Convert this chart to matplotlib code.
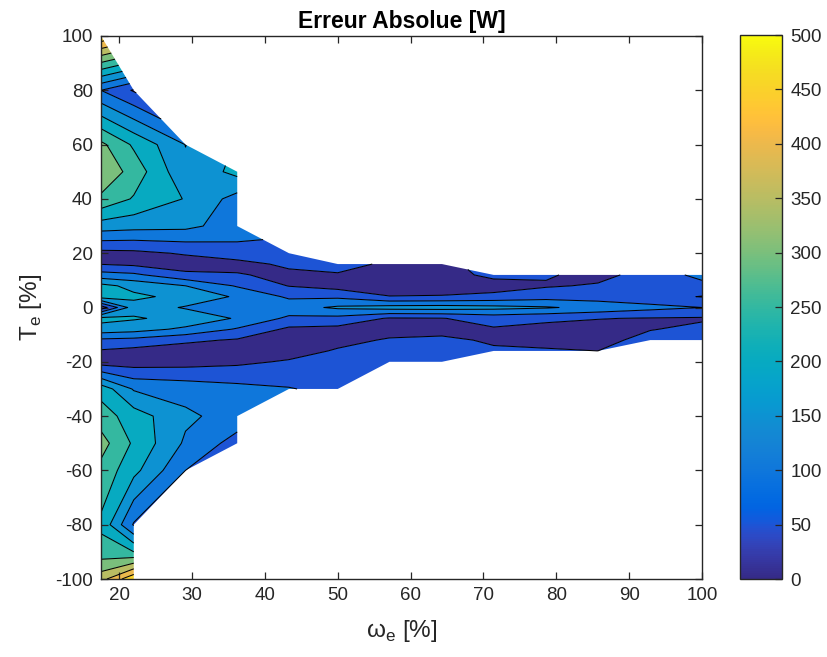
import numpy as np
import matplotlib
matplotlib.use("Agg")
import matplotlib.pyplot as plt
from matplotlib.colors import LinearSegmentedColormap, Normalize
import matplotlib.cm as cm

plt.rcParams['font.family'] = ['Liberation Sans', 'DejaVu Sans']
plt.rcParams['axes.unicode_minus'] = False

# ---------------- data ----------------
NA = np.nan
omega_pct = [17.5, 22.0, 29.1, 36.2, 43.3, 50.0, 57.1, 64.3, 71.4, 78.6, 85.7, 92.9, 100.0]
torque_pct = [-100, -90, -80, -60, -50, -40, -30, -20, -16, -12, -8, -4, 0,
              4, 8, 12, 16, 20, 30, 40, 50, 60, 80, 100]

err_m100 = [380, 490] + [NA] * 11
err_m90 = [270, 250] + [NA] * 11
err_m80 = [240, 95] + [NA] * 11
err_m60 = [285, 215, 100] + [NA] * 10
err_m50 = [320, 242, 142, 80] + [NA] * 9
err_m40 = [275, 224, 160, 128] + [NA] * 9
err_m30 = [230, 145, 130, 115, 103, 85] + [NA] * 7
err_m20 = [25, 25, 30, 40, 55, 70, 75, 80] + [NA] * 5
err_m16 = [45, 35, 25, 25, 30, 55, 65, 70, 60, 55, 50, NA, NA]
err_m12 = [90, 85, 60, 45, 25, 35, 55, 65, 40, 35, 35, 65, 70]
err_m8 = [180, 170, 140, 95, 40, 35, 30, 25, 45, 35, 30, 48, 60]
err_m4 = [215, 205, 185, 145, 90, 85, 45, 48, 70, 60, 52, 47, 45]
err_0 = [20, 180, 145, 125, 130, 158, 170, 172, 165, 155, 135, 115, 100]
err_p4 = [225, 210, 186, 143, 92, 90, 52, 55, 65, 80, 75, 65, 48]
err_p8 = [215, 185, 150, 95, 48, 30, 20, 15, 25, 45, 55, 75, 85]
err_p12 = [120, 110, 62, 55, 35, 45, 30, 25, 65, 55, 35, 70, 115]
err_p16 = [48, 40, 25, 30, 62, 70, 40, 35] + [NA] * 5
err_p20 = [35, 38, 55, 82, 75] + [NA] * 8
err_p30 = [176, 168, 163, 125] + [NA] * 9
err_p40 = [290, 245, 197, 131] + [NA] * 9
err_p50 = [340, 280, 160, 215] + [NA] * 9
err_p60 = [312, 242, 149] + [NA] * 10
err_p80 = [100, 45] + [NA] * 11
err_p100 = [490] + [NA] * 12

rows = [err_m100, err_m90, err_m80, err_m60, err_m50, err_m40, err_m30, err_m20,
        err_m16, err_m12, err_m8, err_m4, err_0, err_p4, err_p8, err_p12, err_p16,
        err_p20, err_p30, err_p40, err_p50, err_p60, err_p80, err_p100]

levels = list(range(0, 501, 50))
cbar_ticks = list(range(0, 501, 50))
x_ticks = list(range(20, 101, 10))
y_ticks = list(range(-100, 101, 20))

# ---------------- style ----------------
PARULA = [
    [0.2081, 0.1663, 0.5292], [0.2116, 0.1898, 0.5777], [0.2123, 0.2138, 0.6270],
    [0.2081, 0.2386, 0.6771], [0.1959, 0.2645, 0.7279], [0.1707, 0.2919, 0.7792],
    [0.1253, 0.3242, 0.8303], [0.0591, 0.3598, 0.8683], [0.0117, 0.3875, 0.8820],
    [0.0060, 0.4086, 0.8828], [0.0165, 0.4266, 0.8786], [0.0329, 0.4430, 0.8720],
    [0.0498, 0.4586, 0.8641], [0.0629, 0.4737, 0.8554], [0.0723, 0.4887, 0.8467],
    [0.0779, 0.5040, 0.8384], [0.0793, 0.5200, 0.8312], [0.0749, 0.5375, 0.8263],
    [0.0641, 0.5570, 0.8240], [0.0488, 0.5772, 0.8228], [0.0343, 0.5966, 0.8199],
    [0.0265, 0.6137, 0.8135], [0.0239, 0.6287, 0.8038], [0.0231, 0.6418, 0.7913],
    [0.0228, 0.6535, 0.7768], [0.0267, 0.6642, 0.7607], [0.0384, 0.6743, 0.7436],
    [0.0590, 0.6838, 0.7254], [0.0843, 0.6928, 0.7062], [0.1133, 0.7015, 0.6859],
    [0.1453, 0.7098, 0.6646], [0.1801, 0.7177, 0.6424], [0.2178, 0.7250, 0.6193],
    [0.2586, 0.7317, 0.5954], [0.3022, 0.7376, 0.5712], [0.3482, 0.7424, 0.5473],
    [0.3953, 0.7459, 0.5244], [0.4420, 0.7481, 0.5033], [0.4871, 0.7491, 0.4840],
    [0.5300, 0.7491, 0.4661], [0.5709, 0.7485, 0.4494], [0.6099, 0.7473, 0.4337],
    [0.6473, 0.7456, 0.4188], [0.6834, 0.7435, 0.4044], [0.7184, 0.7411, 0.3905],
    [0.7525, 0.7384, 0.3768], [0.7858, 0.7356, 0.3633], [0.8185, 0.7327, 0.3498],
    [0.8507, 0.7299, 0.3360], [0.8824, 0.7274, 0.3217], [0.9139, 0.7258, 0.3063],
    [0.9450, 0.7261, 0.2886], [0.9739, 0.7314, 0.2666], [0.9938, 0.7455, 0.2403],
    [0.9990, 0.7653, 0.2164], [0.9955, 0.7861, 0.1967], [0.9880, 0.8066, 0.1794],
    [0.9789, 0.8271, 0.1633], [0.9697, 0.8481, 0.1475], [0.9626, 0.8705, 0.1309],
    [0.9589, 0.8949, 0.1132], [0.9598, 0.9218, 0.0948], [0.9661, 0.9514, 0.0755],
    [0.9763, 0.9831, 0.0538]]
parula = LinearSegmentedColormap.from_list('parula', PARULA, N=256)
AXCOL = '#262626'

fig = plt.figure(figsize=(8.27, 6.57), dpi=100)
ax = fig.add_axes([101 / 827, 1 - 579 / 657, 601 / 827, 543 / 657])

X, Y = np.meshgrid(omega_pct, torque_pct)
Z = np.ma.masked_invalid(np.array(rows, dtype=float))
norm = Normalize(vmin=0, vmax=500)
band_colors = [parula(norm(v)) for v in levels[:-1]]

ax.contourf(X, Y, Z, levels=levels, colors=band_colors, corner_mask=True, antialiased=True)
ax.contour(X, Y, Z, levels=levels, colors='k', linewidths=0.75, corner_mask=True)

ax.set_xlim(min(omega_pct), 100)
ax.set_ylim(-100, 100)
ax.set_xticks(x_ticks)
ax.set_yticks(y_ticks)
ax.tick_params(direction='in', top=True, right=True, length=5, width=0.9,
               colors=AXCOL, labelsize=13.5, pad=6)
for s in ax.spines.values():
    s.set_color(AXCOL)
    s.set_linewidth(1.0)

ax.set_title('Erreur Absolue [W]', fontweight='bold', fontsize=16.5, color='black', pad=6)
ax.set_xlabel('ω$_{\\mathregular{e}}$ [%]', fontsize=17.5, color=AXCOL, labelpad=10)
ax.set_ylabel('T$_{\\mathregular{e}}$ [%]', fontsize=17.5, color=AXCOL, labelpad=8)

cax = fig.add_axes([740 / 827, 1 - 579 / 657, 42 / 827, 544 / 657])
sm = cm.ScalarMappable(norm=norm, cmap=parula)
cb = fig.colorbar(sm, cax=cax, ticks=cbar_ticks)
cb.ax.tick_params(direction='in', length=5, width=0.9, colors=AXCOL, labelsize=13.5, pad=6)
cb.outline.set_edgecolor(AXCOL)
cb.outline.set_linewidth(1.0)

fig.savefig('out.png', dpi=100)
